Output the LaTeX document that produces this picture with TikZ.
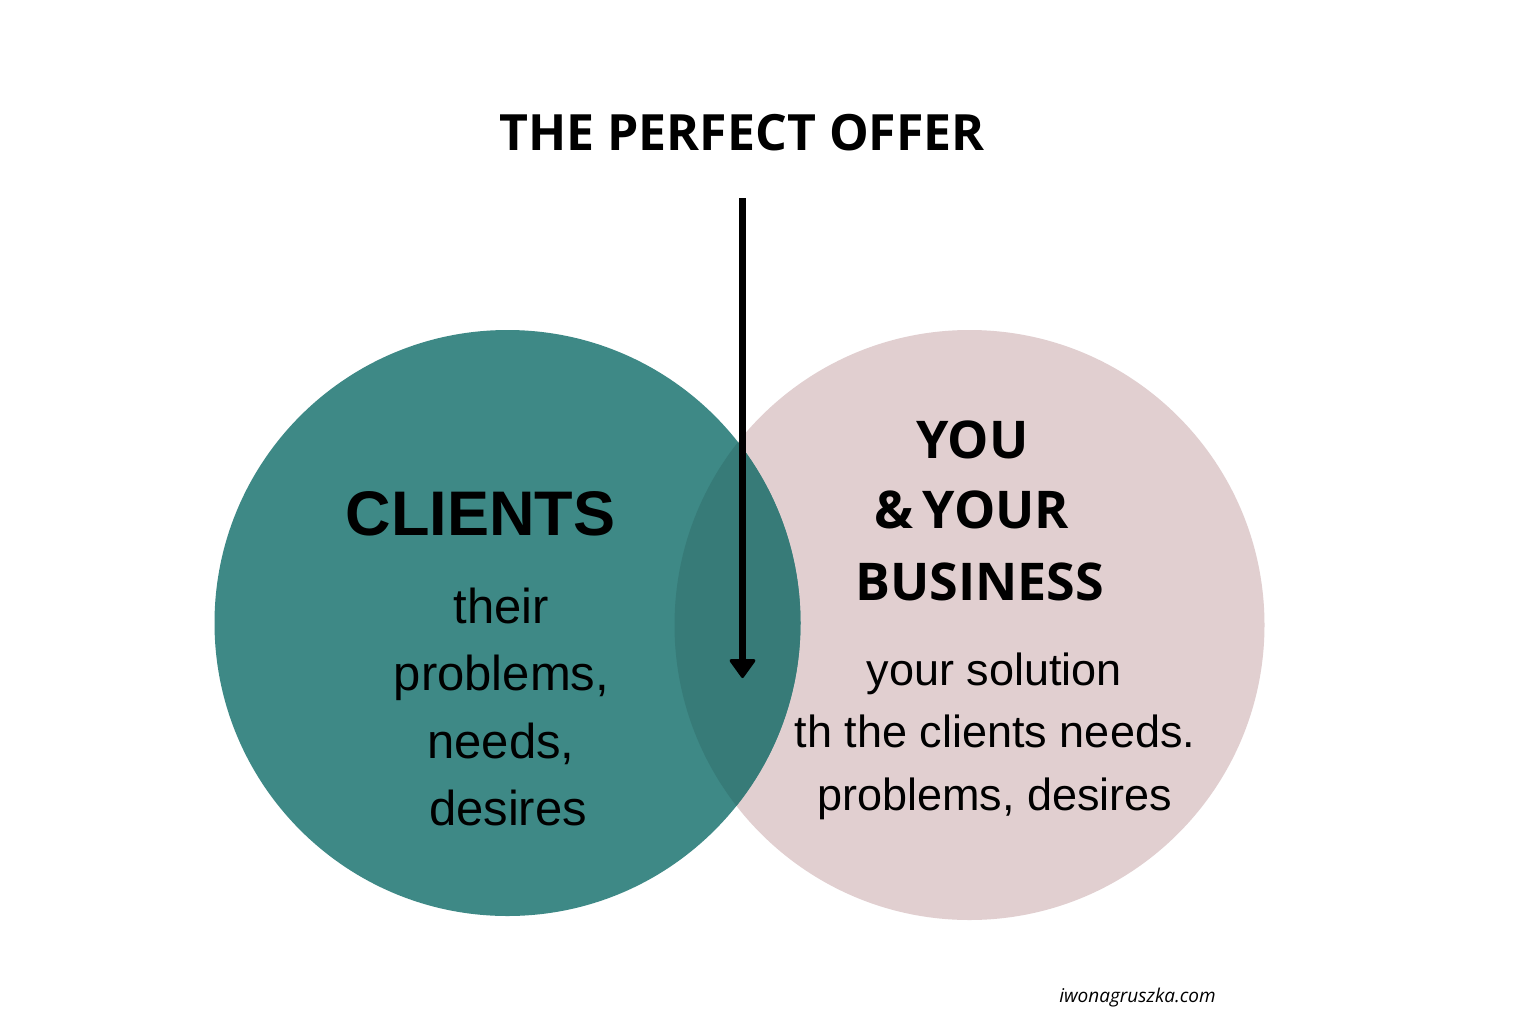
\documentclass[tikz,border=0pt]{standalone}
\usepackage{fontspec}
\usetikzlibrary{arrows.meta}
\newfontfamily\opensansf{Open Sans}
\newfontfamily\arialf{Liberation Sans}
\definecolor{tealc}{HTML}{3E8986}
\definecolor{overlapc}{HTML}{377B78}
\definecolor{pinkc}{HTML}{E1CFD0}
\tikzset{
  title/.style={inner sep=0pt, anchor=base, font=\opensansf\bfseries\fontsize{50}{60}\selectfont},
  headR/.style={inner sep=0pt, anchor=base, font=\opensansf\bfseries\fontsize{52}{60}\selectfont},
  headL/.style={inner sep=0pt, anchor=base, font=\arialf\bfseries\fontsize{63}{70}\selectfont},
  bodyL/.style={inner sep=0pt, anchor=base, font=\arialf\fontsize{49}{60}\selectfont},
  bodyR/.style={inner sep=0pt, anchor=base, font=\arialf\fontsize{45}{55}\selectfont},
  credit/.style={inner sep=0pt, anchor=base, font=\opensansf\itshape\fontsize{19}{22}\selectfont},
}
\begin{document}
\begin{tikzpicture}[x=1pt,y=-1pt]
\useasboundingbox[fill=white] (0,0) rectangle (1513,1026);
% circles
\fill[pinkc] (969.5,625) circle[radius=295];
\fill[tealc] (507.5,623) circle[radius=293];
\begin{scope}
  \clip (969.5,625) circle[radius=295];
  \fill[overlapc] (507.5,623) circle[radius=293];
\end{scope}
% title
\node[title] (t) at (742,150) {THE PERFECT OFFER};
% arrow
\coordinate (arrtop) at (742.5,198);
\coordinate (arrtip) at (742.5,678);
\draw[line width=7pt, -{Triangle[width=28pt,length=20pt,round,line width=3pt]}] (arrtop) -- (arrtip);
% left texts
\node[headL] (cl) at (480.5,535) {CLIENTS};
\node[bodyL] (l1) at (501.5,623) {their};
\node[bodyL] (l2) at (501.5,690) {problems,};
\node[bodyL] (l3) at (501,758) {needs,};
\node[bodyL] (l4) at (508,825) {desires};
% right texts
\node[headR] (r1) at (972.5,458) {YOU};
\node[headR] (r2) at (972,528) {\&\,YOUR};
\node[headR] (r3) at (979.5,600) {BUSINESS};
\node[bodyR] (s1) at (994.5,685) {your solution};
\node[bodyR] (s2) at (995,747) {th the clients needs.};
\node[bodyR] (s3) at (995,810) {problems, desires};
% credit
\node[credit] (c) at (1137.5,1002) {iwonagruszka.com};
\end{tikzpicture}
\end{document}
